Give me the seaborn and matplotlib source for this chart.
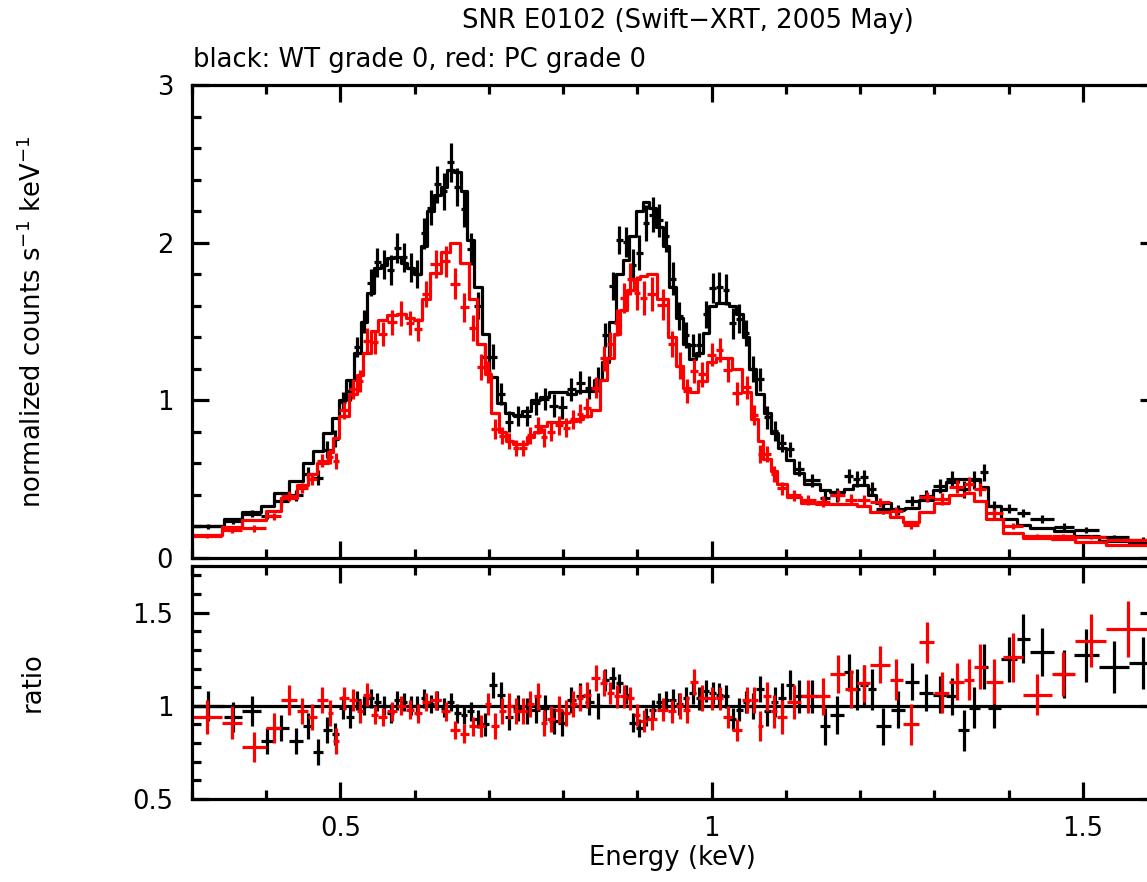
import numpy as np
import pandas as pd
import matplotlib
matplotlib.use("Agg")
import matplotlib.pyplot as plt
from matplotlib.ticker import MultipleLocator, FixedLocator, FixedFormatter
import seaborn as sns

# ---------------------------------------------------------------------------
# Spectral data: bin edges (keV), folded model (counts/s/keV), data/model ratio
# and 1-sigma ratio errors for the two XRT readout modes.
# ---------------------------------------------------------------------------
wt_edges = [
    0.300, 0.343, 0.368, 0.393, 0.410, 0.431, 0.449, 0.463, 0.476, 0.488,
    0.498, 0.508, 0.518, 0.527, 0.536, 0.545, 0.554, 0.563, 0.572, 0.581,
    0.590, 0.599, 0.608, 0.617, 0.626, 0.635, 0.644, 0.653, 0.662, 0.671,
    0.680, 0.690, 0.700, 0.711, 0.722, 0.733, 0.745, 0.757, 0.769, 0.781,
    0.793, 0.805, 0.817, 0.829, 0.841, 0.852, 0.862, 0.871, 0.880, 0.889,
    0.898, 0.907, 0.916, 0.925, 0.934, 0.943, 0.952, 0.961, 0.970, 0.979,
    0.988, 0.997, 1.006, 1.015, 1.024, 1.033, 1.042, 1.051, 1.060, 1.070,
    1.080, 1.090, 1.100, 1.111, 1.124, 1.146, 1.160, 1.179, 1.191, 1.200,
    1.210, 1.222, 1.241, 1.261, 1.280, 1.298, 1.316, 1.332, 1.347, 1.361,
    1.372, 1.390, 1.411, 1.429, 1.461, 1.488, 1.522, 1.562, 1.600,
]
wt_model = [
    0.20, 0.25, 0.29, 0.33, 0.41, 0.49, 0.60, 0.68, 0.79, 0.89,
    1.00, 1.13, 1.30, 1.50, 1.68, 1.84, 1.86, 1.90, 1.91, 1.87,
    1.84, 1.80, 1.98, 2.20, 2.30, 2.35, 2.46, 2.45, 2.33, 2.02,
    1.72, 1.42, 1.15, 0.98, 0.92, 0.91, 0.93, 1.00, 1.02, 1.05,
    1.05, 1.04, 1.06, 1.06, 1.13, 1.24, 1.50, 1.80, 1.89, 2.04,
    2.20, 2.26, 2.22, 2.10, 1.98, 1.72, 1.52, 1.36, 1.26, 1.30,
    1.43, 1.60, 1.62, 1.62, 1.60, 1.55, 1.40, 1.20, 1.04, 0.92,
    0.79, 0.70, 0.62, 0.54, 0.47, 0.43, 0.42, 0.44, 0.46, 0.46,
    0.40, 0.35, 0.31, 0.32, 0.37, 0.43, 0.48, 0.50, 0.50, 0.45,
    0.33, 0.25, 0.21, 0.19, 0.17, 0.14, 0.11, 0.095,
]
wt_ratio = [
    1.00, 0.94, 0.97, 0.81, 0.88, 0.81, 0.89, 0.75, 0.87, 0.85,
    0.99, 0.94, 1.03, 1.00, 1.04, 1.02, 1.00, 0.96, 1.03, 1.02,
    1.00, 1.00, 1.04, 1.01, 1.03, 0.99, 1.02, 0.96, 0.95, 0.97,
    0.93, 0.90, 1.11, 1.06, 0.94, 0.99, 0.97, 0.98, 0.99, 0.92,
    0.91, 1.03, 1.05, 1.02, 1.00, 1.14, 1.15, 1.12, 1.06, 0.91,
    0.88, 0.94, 0.98, 1.02, 1.03, 1.03, 1.01, 1.04, 1.07, 1.04,
    1.08, 1.07, 1.06, 1.05, 0.93, 0.98, 1.02, 1.00, 1.09, 0.97,
    1.02, 1.04, 1.11, 1.05, 1.05, 0.89, 0.95, 1.18, 1.09, 1.11,
    1.09, 0.89, 0.98, 1.13, 1.07, 1.06, 1.05, 0.87, 0.99, 1.21,
    0.99, 1.25, 1.36, 1.29, 1.17, 1.27, 1.21, 1.23,
]
wt_rerr = [
    0.08, 0.08, 0.08, 0.07, 0.07, 0.07, 0.07, 0.07, 0.07, 0.06,
    0.06, 0.06, 0.05, 0.05, 0.05, 0.05, 0.05, 0.05, 0.05, 0.05,
    0.05, 0.05, 0.05, 0.05, 0.05, 0.05, 0.05, 0.05, 0.05, 0.05,
    0.05, 0.06, 0.07, 0.07, 0.07, 0.07, 0.07, 0.07, 0.07, 0.07,
    0.07, 0.07, 0.07, 0.07, 0.07, 0.06, 0.06, 0.05, 0.05, 0.05,
    0.05, 0.05, 0.05, 0.05, 0.05, 0.06, 0.06, 0.06, 0.06, 0.06,
    0.06, 0.06, 0.06, 0.06, 0.06, 0.06, 0.06, 0.07, 0.07, 0.08,
    0.08, 0.08, 0.08, 0.09, 0.09, 0.10, 0.10, 0.10, 0.11, 0.11,
    0.11, 0.10, 0.10, 0.10, 0.10, 0.10, 0.10, 0.11, 0.11, 0.12,
    0.11, 0.12, 0.13, 0.13, 0.13, 0.14, 0.14, 0.14,
]

pc_edges = [
    0.300, 0.340, 0.368, 0.400, 0.420, 0.441, 0.456, 0.468, 0.483, 0.490,
    0.498, 0.511, 0.522, 0.531, 0.541, 0.551, 0.563, 0.576, 0.588, 0.599,
    0.610, 0.621, 0.636, 0.648, 0.661, 0.673, 0.684, 0.695, 0.703, 0.713,
    0.723, 0.732, 0.741, 0.751, 0.761, 0.770, 0.778, 0.789, 0.800, 0.809,
    0.818, 0.827, 0.838, 0.850, 0.859, 0.868, 0.877, 0.886, 0.895, 0.904,
    0.913, 0.927, 0.941, 0.952, 0.962, 0.971, 0.981, 0.994, 1.006, 1.016,
    1.028, 1.041, 1.053, 1.062, 1.069, 1.080, 1.088, 1.102, 1.121, 1.140,
    1.160, 1.180, 1.196, 1.214, 1.240, 1.258, 1.280, 1.300, 1.320, 1.340,
    1.354, 1.370, 1.392, 1.420, 1.458, 1.490, 1.531, 1.590,
]
pc_model = [
    0.146, 0.197, 0.24, 0.30, 0.38, 0.46, 0.53, 0.60, 0.67, 0.76,
    0.90, 1.04, 1.16, 1.30, 1.44, 1.51, 1.54, 1.55, 1.52, 1.51,
    1.64, 1.81, 1.94, 2.00, 1.87, 1.64, 1.36, 1.17, 0.92, 0.80,
    0.74, 0.72, 0.72, 0.77, 0.80, 0.84, 0.86, 0.86, 0.86, 0.87,
    0.88, 0.90, 0.94, 1.13, 1.27, 1.42, 1.57, 1.70, 1.77, 1.79,
    1.80, 1.64, 1.40, 1.22, 1.08, 1.05, 1.12, 1.24, 1.27, 1.27,
    1.20, 1.05, 0.88, 0.74, 0.63, 0.55, 0.47, 0.39, 0.35, 0.34,
    0.34, 0.34, 0.33, 0.29, 0.26, 0.23, 0.29, 0.35, 0.40, 0.41,
    0.36, 0.25, 0.16, 0.13, 0.12, 0.10, 0.08,
]
pc_ratio = [
    0.94, 0.91, 0.78, 0.88, 1.03, 0.97, 0.94, 1.03, 0.96, 0.81,
    1.04, 1.03, 0.97, 1.06, 0.95, 0.94, 0.97, 1.00, 0.98, 0.96,
    1.02, 1.03, 0.97, 0.87, 0.85, 0.89, 0.89, 1.01, 0.89, 0.97,
    1.00, 0.97, 0.97, 1.01, 1.05, 0.91, 0.93, 0.98, 0.96, 1.01,
    1.04, 1.06, 1.15, 1.12, 1.07, 1.05, 1.05, 1.04, 0.95, 0.92,
    0.93, 0.98, 0.97, 1.00, 0.98, 1.13, 1.04, 1.04, 1.04, 0.94,
    0.87, 1.03, 1.03, 0.89, 1.05, 0.97, 0.94, 1.02, 1.05, 1.05,
    1.17, 1.09, 1.12, 1.22, 1.14, 0.90, 1.34, 1.07, 1.13, 1.14,
    1.21, 1.13, 1.26, 1.06, 1.17, 1.35, 1.41,
]
pc_rerr = [
    0.09, 0.09, 0.08, 0.08, 0.08, 0.07, 0.07, 0.07, 0.07, 0.07,
    0.06, 0.06, 0.06, 0.06, 0.05, 0.05, 0.05, 0.05, 0.05, 0.05,
    0.05, 0.05, 0.05, 0.05, 0.05, 0.05, 0.06, 0.06, 0.07, 0.07,
    0.07, 0.07, 0.07, 0.07, 0.07, 0.07, 0.07, 0.07, 0.07, 0.07,
    0.07, 0.07, 0.07, 0.07, 0.06, 0.06, 0.06, 0.06, 0.06, 0.06,
    0.06, 0.06, 0.06, 0.07, 0.07, 0.07, 0.07, 0.06, 0.06, 0.06,
    0.06, 0.07, 0.07, 0.08, 0.08, 0.09, 0.09, 0.09, 0.09, 0.10,
    0.10, 0.10, 0.10, 0.10, 0.11, 0.11, 0.11, 0.11, 0.10, 0.11,
    0.12, 0.12, 0.13, 0.11, 0.12, 0.14, 0.15,
]

title_text = "SNR E0102 (Swift\u2212XRT, 2005 May)"
subtitle_text = "black: WT grade 0, red: PC grade 0"
top_ylabel = "normalized counts s$^{-1}$ keV$^{-1}$"
bottom_ylabel = "ratio"
xlabel_text = "Energy (keV)"


def spectrum_frame(edges, model, ratio, rerr):
    edges = np.asarray(edges, dtype=float)
    model = np.asarray(model, dtype=float)
    ratio = np.asarray(ratio, dtype=float)
    rerr = np.asarray(rerr, dtype=float)
    assert len(edges) == len(model) + 1 == len(ratio) + 1 == len(rerr) + 1
    return pd.DataFrame({
        "center": 0.5 * (edges[:-1] + edges[1:]),
        "halfwidth": 0.5 * (edges[1:] - edges[:-1]),
        "model": model,
        "ratio": ratio,
        "rerr": rerr,
        "counts": model * ratio,
        "counts_err": model * rerr,
    })


def step_frame(edges, model):
    return pd.DataFrame({"energy": np.asarray(edges, dtype=float),
                         "flux": np.append(model, model[-1])})


wt = spectrum_frame(wt_edges, wt_model, wt_ratio, wt_rerr)
pc = spectrum_frame(pc_edges, pc_model, pc_ratio, pc_rerr)

sns.set_theme(style="ticks", rc={
    "axes.edgecolor": "black",
    "axes.linewidth": 2.2,
    "xtick.color": "black",
    "ytick.color": "black",
    "text.color": "black",
    "axes.labelcolor": "black",
})
plt.rcParams["font.family"] = ["DejaVu Sans"]
plt.rcParams["mathtext.default"] = "regular"

W, H = 1147, 882
fig = plt.figure(figsize=(W / 100, H / 100), dpi=100)
fig.patch.set_facecolor("white")


def frac_box(left, top, right, bottom):
    return [left / W, 1 - bottom / H, (right - left) / W, (bottom - top) / H]


ax_top = fig.add_axes(frac_box(192, 85, 1157, 558))
ax_bot = fig.add_axes(frac_box(192, 566, 1157, 799))

LW = 2.3
FS = 18.6
colors = {"wt": "black", "pc": "#ff0000"}

# upper panel: folded model as steps, data as crosses
for key, edges, model, df in (("wt", wt_edges, wt_model, wt),
                               ("pc", pc_edges, pc_model, pc)):
    sns.lineplot(data=step_frame(edges, model), x="energy", y="flux",
                 drawstyle="steps-post", color=colors[key], linewidth=LW,
                 estimator=None, sort=False, ax=ax_top, legend=False)
    ax_top.errorbar(df["center"], df["counts"], xerr=df["halfwidth"],
                    yerr=df["counts_err"], fmt="none", ecolor=colors[key],
                    elinewidth=LW, capsize=0)

# lower panel: data/model ratio
ax_bot.axhline(1.0, color="black", linewidth=LW, zorder=1)
for key, df in (("wt", wt), ("pc", pc)):
    ax_bot.errorbar(df["center"], df["ratio"], xerr=df["halfwidth"],
                    yerr=df["rerr"], fmt="none", ecolor=colors[key],
                    elinewidth=LW, capsize=0, zorder=2)

for ax in (ax_top, ax_bot):
    ax.set_xlim(0.3, 1.6)
    ax.set_xlabel("")
    ax.set_ylabel("")
    ax.set_facecolor("white")
    for sp in ax.spines.values():
        sp.set_visible(True)
        sp.set_linewidth(LW)
        sp.set_color("black")
    ax.xaxis.set_major_locator(MultipleLocator(0.5))
    ax.xaxis.set_minor_locator(MultipleLocator(0.1))
    ax.tick_params(which="both", direction="in", top=True, right=True,
                   width=LW, colors="black", labelsize=FS)
    ax.tick_params(which="major", length=12)
    ax.tick_params(which="minor", length=6.5)
    ax.tick_params(axis="y", which="major", pad=13.5)
    ax.tick_params(axis="x", which="major", pad=12.5)

ax_top.set_ylim(0, 3)
ax_top.yaxis.set_major_locator(MultipleLocator(1))
ax_top.yaxis.set_minor_locator(MultipleLocator(0.2))
ax_top.tick_params(labelbottom=False)

ax_bot.set_ylim(0.5, 1.75)
ax_bot.yaxis.set_major_locator(FixedLocator([0.5, 1.0, 1.5]))
ax_bot.yaxis.set_major_formatter(FixedFormatter(["0.5", "1", "1.5"]))
ax_bot.yaxis.set_minor_locator(MultipleLocator(0.1))
ax_bot.xaxis.set_major_formatter(
    matplotlib.ticker.FuncFormatter(lambda v, p: f"{v:g}"))

fig.text(688 / W, 1 - 21 / H, title_text, ha="center", va="center",
         fontsize=FS)
fig.text(193 / W, 1 - 60 / H, subtitle_text, ha="left", va="center",
         fontsize=FS)
fig.text(33 / W, 1 - 322 / H, top_ylabel, ha="center", va="center",
         rotation=90, fontsize=FS)
fig.text(33 / W, 1 - 682 / H, bottom_ylabel, ha="center", va="center",
         rotation=90, fontsize=FS)
fig.text(672 / W, 1 - 858 / H, xlabel_text, ha="center", va="center",
         fontsize=FS)

fig.savefig("out.png", dpi=100, facecolor="white")
